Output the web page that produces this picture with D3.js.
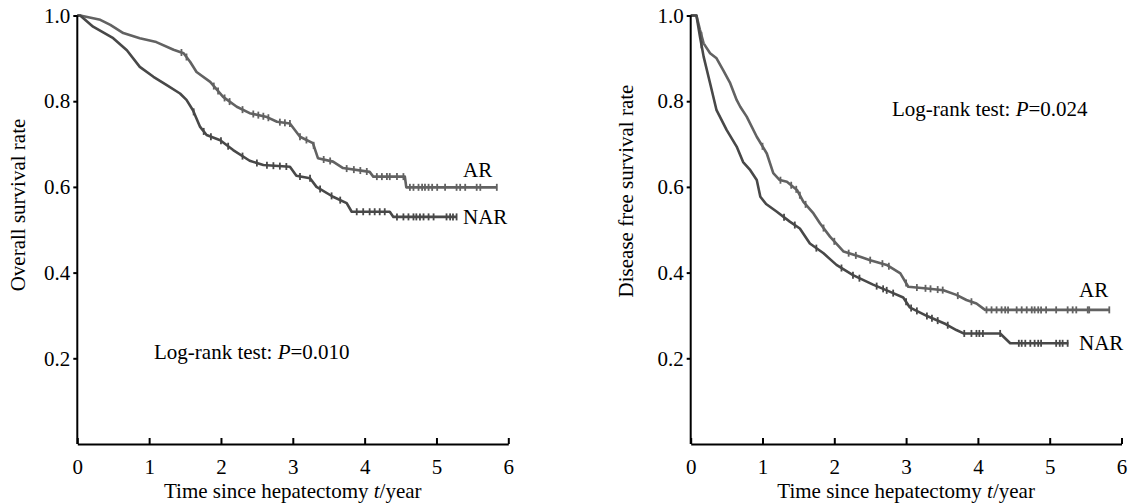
<!DOCTYPE html>
<html>
<head>
<meta charset="utf-8">
<script src="https://cdn.jsdelivr.net/npm/d3@7"></script>
<style>
  body { margin: 0; background: #fff; }
  svg text { font-family: "Liberation Serif", "Times New Roman", serif; fill: #000; }
</style>
</head>
<body>
<svg id="chart" width="1138" height="504"></svg>
<script>
const timeTicks = [0, 1, 2, 3, 4, 5, 6];
const rateTicks = [0.2, 0.4, 0.6, 0.8, 1.0];

// overall survival, [year, rate]
const osAR = [
  [0, 1.0], [0.04, 1.0], [0.32, 0.99], [0.46, 0.978], [0.64, 0.959], [0.87, 0.947],
  [1.1, 0.938], [1.34, 0.92], [1.48, 0.912], [1.57, 0.892], [1.66, 0.868], [1.85, 0.845],
  [2.03, 0.81], [2.22, 0.787], [2.4, 0.772], [2.64, 0.763], [2.78, 0.752], [2.96, 0.748],
  [3.1, 0.717], [3.28, 0.702], [3.35, 0.667], [3.56, 0.659], [3.7, 0.644], [4.07, 0.635],
  [4.12, 0.624], [4.56, 0.624], [4.58, 0.599], [5.84, 0.599]
];
const osNAR = [
  [0, 1.0], [0.04, 1.0], [0.22, 0.974], [0.5, 0.947], [0.69, 0.919], [0.87, 0.88],
  [1.06, 0.857], [1.24, 0.838], [1.43, 0.818], [1.52, 0.803], [1.61, 0.779], [1.71, 0.74],
  [1.8, 0.721], [1.99, 0.709], [2.17, 0.686], [2.4, 0.661], [2.59, 0.651], [2.96, 0.647],
  [3.05, 0.626], [3.24, 0.62], [3.33, 0.6], [3.56, 0.577], [3.75, 0.562], [3.82, 0.542],
  [4.35, 0.542], [4.4, 0.53], [5.28, 0.53]
];
// disease free survival, [year, rate]
const dfsAR = [
  [0, 1.0], [0.08, 1.0], [0.13, 0.966], [0.18, 0.935], [0.27, 0.912], [0.36, 0.9],
  [0.45, 0.873], [0.55, 0.842], [0.64, 0.803], [0.69, 0.787], [0.78, 0.764], [0.92, 0.717],
  [1.06, 0.678], [1.15, 0.632], [1.24, 0.616], [1.34, 0.612], [1.48, 0.593], [1.57, 0.565],
  [1.71, 0.538], [1.8, 0.515], [1.94, 0.484], [2.13, 0.449], [2.36, 0.437], [2.5, 0.429],
  [2.73, 0.418], [2.92, 0.398], [3.03, 0.367], [3.29, 0.363], [3.52, 0.359], [3.7, 0.348],
  [3.84, 0.336], [3.98, 0.328], [4.1, 0.313], [5.84, 0.313]
];
const dfsNAR = [
  [0, 1.0], [0.08, 1.0], [0.13, 0.95], [0.18, 0.904], [0.27, 0.842], [0.36, 0.779],
  [0.5, 0.733], [0.64, 0.694], [0.73, 0.658], [0.83, 0.639], [0.92, 0.616], [0.97, 0.577],
  [1.05, 0.56], [1.2, 0.542], [1.38, 0.519], [1.52, 0.503], [1.66, 0.468], [1.85, 0.445],
  [2.03, 0.418], [2.26, 0.394], [2.54, 0.372], [2.78, 0.355], [2.96, 0.342], [3.05, 0.319],
  [3.3, 0.298], [3.55, 0.28], [3.7, 0.266], [3.8, 0.258], [4.31, 0.258], [4.45, 0.235],
  [5.26, 0.235]
];

// censored observations, year
const osARCens = [1.45, 1.52, 1.9, 1.96, 2.05, 2.12, 2.3, 2.45, 2.52, 2.59, 2.66, 2.82, 2.89,
  2.96, 3.1, 3.19, 3.29, 3.43, 3.52, 3.75, 3.85, 3.94, 4.03, 4.17, 4.24, 4.31, 4.35, 4.45,
  4.54, 4.63, 4.68, 4.75, 4.8, 4.84, 4.89, 4.94, 5.01, 5.12, 5.28, 5.33, 5.4, 5.56, 5.61, 5.84];
const osNARCens = [1.62, 1.76, 1.86, 2.0, 2.1, 2.3, 2.5, 2.64, 2.73, 2.82, 2.91, 3.1, 3.24,
  3.38, 3.54, 3.66, 3.89, 3.98, 4.07, 4.14, 4.21, 4.28, 4.45, 4.54, 4.61, 4.68, 4.72, 4.77,
  4.82, 4.89, 4.96, 5.14, 5.19, 5.23, 5.28];
const dfsARCens = [0.15, 1.0, 1.25, 1.4, 1.47, 1.52, 1.6, 1.85, 2.0, 2.2, 2.3, 2.5, 2.67,
  2.76, 3.0, 3.15, 3.27, 3.34, 3.44, 3.51, 3.72, 3.91, 4.12, 4.19, 4.26, 4.33, 4.38, 4.42,
  4.54, 4.61, 4.68, 4.75, 4.79, 4.84, 4.88, 4.95, 5.09, 5.25, 5.32, 5.37, 5.53, 5.55, 5.83];
const dfsNARCens = [0.15, 1.3, 1.45, 1.75, 2.1, 2.26, 2.35, 2.59, 2.68, 2.73, 2.82, 3.0,
  3.07, 3.15, 3.29, 3.36, 3.44, 3.58, 3.81, 3.91, 3.98, 4.02, 4.07, 4.31, 4.57, 4.61, 4.66,
  4.73, 4.79, 4.84, 4.88, 5.09, 5.14, 5.18, 5.25];

const groupNames = ["AR", "NAR"];
const groupColors = ["#626262", "#484848"];

const panels = [
  { left: 77.3, right: 508.3, yTitle: "Overall survival rate", yTitleX: 25, yTitleY: 205,
    series: [osAR, osNAR], cens: [osARCens, osNARCens],
    pText: "0.010", pX: 154, pY: 359,
    labels: [[463, 177], [463, 224]] },
  { left: 690.7, right: 1121.5, yTitle: "Disease free survival rate", yTitleX: 633, yTitleY: 191,
    series: [dfsAR, dfsNAR], cens: [dfsARCens, dfsNARCens],
    pText: "0.024", pX: 892, pY: 116,
    labels: [[1079, 297], [1079, 350]] }
];

const svg = d3.select("#chart");
const fontSize = 21;

panels.forEach(function (p) {
  const x = d3.scaleLinear().domain([0, 6]).range([p.left, p.right]);
  const y = d3.scaleLinear().domain([0, 1]).range([444, 15.5]);

  const line = d3.line().x(d => x(d[0])).y(d => y(d[1]));

  function rateAt(data, t) {
    const i = d3.bisector(d => d[0]).left(data, t);
    if (i <= 0) return data[0][1];
    if (i >= data.length) return data[data.length - 1][1];
    const a = data[i - 1], b = data[i];
    return a[1] + (b[1] - a[1]) * (t - a[0]) / (b[0] - a[0]);
  }

  p.series.forEach(function (data, k) {
    svg.append("path")
      .datum(data)
      .attr("fill", "none")
      .attr("stroke", groupColors[k])
      .attr("stroke-width", 2.6)
      .attr("stroke-linejoin", "round")
      .attr("d", line);

    svg.append("g")
      .selectAll("line")
      .data(p.cens[k])
      .enter()
      .append("line")
      .attr("x1", d => x(d)).attr("x2", d => x(d))
      .attr("y1", d => y(rateAt(data, d)) - 3.5)
      .attr("y2", d => y(rateAt(data, d)) + 3.5)
      .attr("stroke", groupColors[k])
      .attr("stroke-width", 1.8);

    svg.append("text")
      .attr("x", p.labels[k][0])
      .attr("y", p.labels[k][1])
      .style("font-size", fontSize + "px")
      .text(groupNames[k]);
  });

  const yAxis = svg.append("g")
    .attr("transform", `translate(${p.left},0)`)
    .call(d3.axisLeft(y).tickValues(rateTicks).tickFormat(d3.format(".1f"))
      .tickSize(4).tickSizeOuter(0).tickPadding(3));
  yAxis.select(".domain").attr("d", `M0,${y(1)}V${y(0)}`);

  const xAxis = svg.append("g")
    .attr("transform", "translate(0,444)")
    .call(d3.axisBottom(x).tickValues(timeTicks).tickFormat(d3.format("d"))
      .tickSizeInner(-6).tickSizeOuter(0).tickPadding(15));

  [yAxis, xAxis].forEach(function (g) {
    g.selectAll(".domain").attr("stroke", "#000").attr("stroke-width", 2);
    g.selectAll(".tick line").attr("stroke", "#000").attr("stroke-width", 2);
    g.selectAll(".tick text")
      .style("font-size", fontSize + "px")
      .style("font-family", '"Liberation Serif", "Times New Roman", serif');
  });

  svg.append("text")
    .attr("transform", `translate(${p.yTitleX},${p.yTitleY}) rotate(-90)`)
    .attr("text-anchor", "middle")
    .style("font-size", fontSize + "px")
    .text(p.yTitle);

  const xt = svg.append("text")
    .attr("x", (p.left + p.right) / 2)
    .attr("y", 498)
    .attr("text-anchor", "middle")
    .style("font-size", fontSize + "px");
  xt.append("tspan").text("Time since hepatectomy ");
  xt.append("tspan").style("font-style", "italic").text("t");
  xt.append("tspan").text("/year");

  const pt = svg.append("text")
    .attr("x", p.pX)
    .attr("y", p.pY)
    .style("font-size", fontSize + "px");
  pt.append("tspan").text("Log-rank test: ");
  pt.append("tspan").style("font-style", "italic").text("P");
  pt.append("tspan").text("=" + p.pText);
});
</script>
</body>
</html>
